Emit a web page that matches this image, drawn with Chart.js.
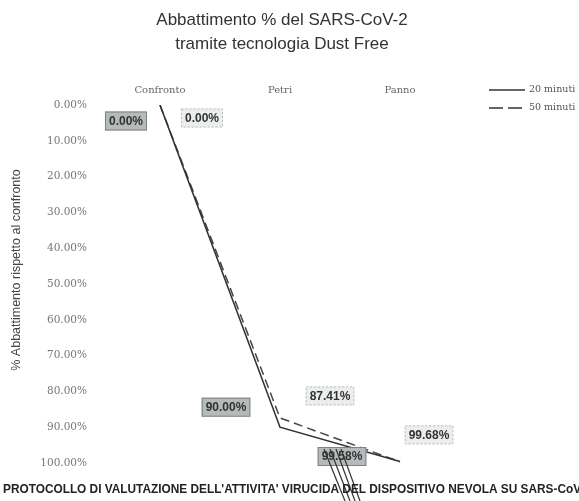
<!DOCTYPE html>
<html>
<head>
<meta charset="utf-8">
<script src="https://cdn.jsdelivr.net/npm/chart.js@4/dist/chart.umd.min.js"></script>
<style>
  html, body { margin: 0; padding: 0; background: #fff; }
  #wrap { width: 579px; height: 501px; }
</style>
</head>
<body>
<div id="wrap"><canvas id="abbChart" width="579" height="501"></canvas></div>
<script>
// DATA
const categories = ['Confronto', 'Petri', 'Panno'];
const seriesNames = ['20 minuti', '50 minuti'];
const values20 = [0.00, 90.00, 99.58];
const values50 = [0.00, 87.41, 99.68];
const yTickStep = 10;

// label box offsets from each point (px), per series
const labelOffsets = [
  [[-34, 16], [-54, -20], [-58, -5]],
  [[42, 13], [50, -22], [29, -27]]
];
const labelStyles = [
  { fill: '#b5baba', stroke: '#7d8282', dash: [] },
  { fill: '#eceeee', stroke: '#b9bdbd', dash: [2, 2] }
];

const serif = '"DejaVu Serif", serif';
const sans = '"Liberation Sans", Arial, sans-serif';

// DECORATIONS (title, axis title, legend, labels, footer)
const decorations = {
  id: 'decorations',
  afterDraw(chart) {
    const ctx = chart.ctx;
    ctx.save();

    // title
    ctx.fillStyle = '#333';
    ctx.font = '17px ' + sans;
    ctx.textAlign = 'center';
    ctx.textBaseline = 'middle';
    ctx.fillText('Abbattimento % del SARS-CoV-2', 282, 20);
    ctx.fillText('tramite tecnologia Dust Free', 282, 44);

    // y title
    ctx.save();
    ctx.translate(17, 270);
    ctx.rotate(-Math.PI / 2);
    ctx.font = '12.5px ' + sans;
    ctx.fillStyle = '#444';
    ctx.fillText('% Abbattimento rispetto al confronto', 0, 0);
    ctx.restore();

    // legend
    chart.data.datasets.forEach((ds, i) => {
      const y = 90 + i * 18;
      ctx.beginPath();
      ctx.setLineDash(i === 0 ? [] : [14, 5]);
      ctx.strokeStyle = '#333';
      ctx.lineWidth = 1.4;
      ctx.moveTo(489, y);
      ctx.lineTo(525, y);
      ctx.stroke();
      ctx.setLineDash([]);
      ctx.fillStyle = '#555';
      ctx.font = '9.5px ' + serif;
      ctx.textAlign = 'left';
      ctx.fillText(ds.label, 529, y);
    });

    // data labels
    ctx.font = 'bold 12px ' + sans;
    ctx.textAlign = 'center';
    ctx.textBaseline = 'middle';
    chart.data.datasets.forEach((ds, i) => {
      const meta = chart.getDatasetMeta(i);
      meta.data.forEach((pt, j) => {
        const txt = ds.data[j].toFixed(2) + '%';
        const cx = pt.x + labelOffsets[i][j][0];
        const cy = pt.y + labelOffsets[i][j][1];
        const w = ctx.measureText(txt).width + 8;
        const h = 19;
        const st = labelStyles[i];
        ctx.fillStyle = st.fill;
        ctx.fillRect(cx - w / 2, cy - h / 2, w, h);
        ctx.setLineDash(st.dash);
        ctx.strokeStyle = st.stroke;
        ctx.lineWidth = 1;
        ctx.strokeRect(cx - w / 2 + 0.5, cy - h / 2 + 0.5, w - 1, h - 1);
        ctx.setLineDash([]);
        ctx.fillStyle = '#333';
        ctx.fillText(txt, cx, cy + 0.5);

        // leader lines from the last label of series 1
        if (i === 0 && j === ds.data.length - 1) {
          ctx.strokeStyle = '#333';
          ctx.lineWidth = 1.2;
          [[-18, 3], [-12, 8], [-6, 13], [-1, 18]].forEach(([dx, ex]) => {
            ctx.beginPath();
            ctx.moveTo(cx + dx, cy - h / 2 + 2);
            ctx.lineTo(cx + ex, 501);
            ctx.stroke();
          });
        }
      });
    });

    // footer (runs off the right edge like the scan)
    ctx.fillStyle = '#222';
    ctx.font = 'bold 12.5px ' + sans;
    ctx.textAlign = 'left';
    ctx.textBaseline = 'middle';
    ctx.fillText("PROTOCOLLO DI VALUTAZIONE DELL'ATTIVITA' VIRUCIDA DEL DISPOSITIVO NEVOLA SU SARS-CoV-2", 3, 490, 588);

    ctx.restore();
  }
};

// CHART
new Chart(document.getElementById('abbChart'), {
  type: 'line',
  data: {
    labels: categories,
    datasets: [
      {
        label: seriesNames[0],
        data: values20,
        borderColor: '#333',
        borderWidth: 1.6,
        pointRadius: 0,
        tension: 0,
        fill: false
      },
      {
        label: seriesNames[1],
        data: values50,
        borderColor: '#444',
        borderWidth: 1.5,
        borderDash: [9, 5],
        pointRadius: 0,
        tension: 0,
        fill: false
      }
    ]
  },
  options: {
    responsive: false,
    animation: false,
    layout: { padding: { top: 60, left: 5, right: 119, bottom: 38 } },
    plugins: {
      legend: { display: false },
      title: { display: false },
      tooltip: { enabled: false }
    },
    scales: {
      x: {
        position: 'top',
        offset: true,
        grid: { display: false, drawTicks: false },
        border: { display: false },
        ticks: { padding: 9, color: '#666', font: { family: serif, size: 10 } },
        afterFit: s => { s.height = 45; }
      },
      y: {
        reverse: true,
        min: 0,
        max: 100,
        grid: { display: false, drawTicks: false },
        border: { display: false },
        ticks: {
          stepSize: yTickStep,
          padding: 13,
          color: '#777',
          font: { family: serif, size: 10.5 },
          callback: v => v.toFixed(2) + '%'
        },
        afterFit: s => { s.width = 95; }
      }
    }
  },
  plugins: [decorations]
});
</script>
</body>
</html>
